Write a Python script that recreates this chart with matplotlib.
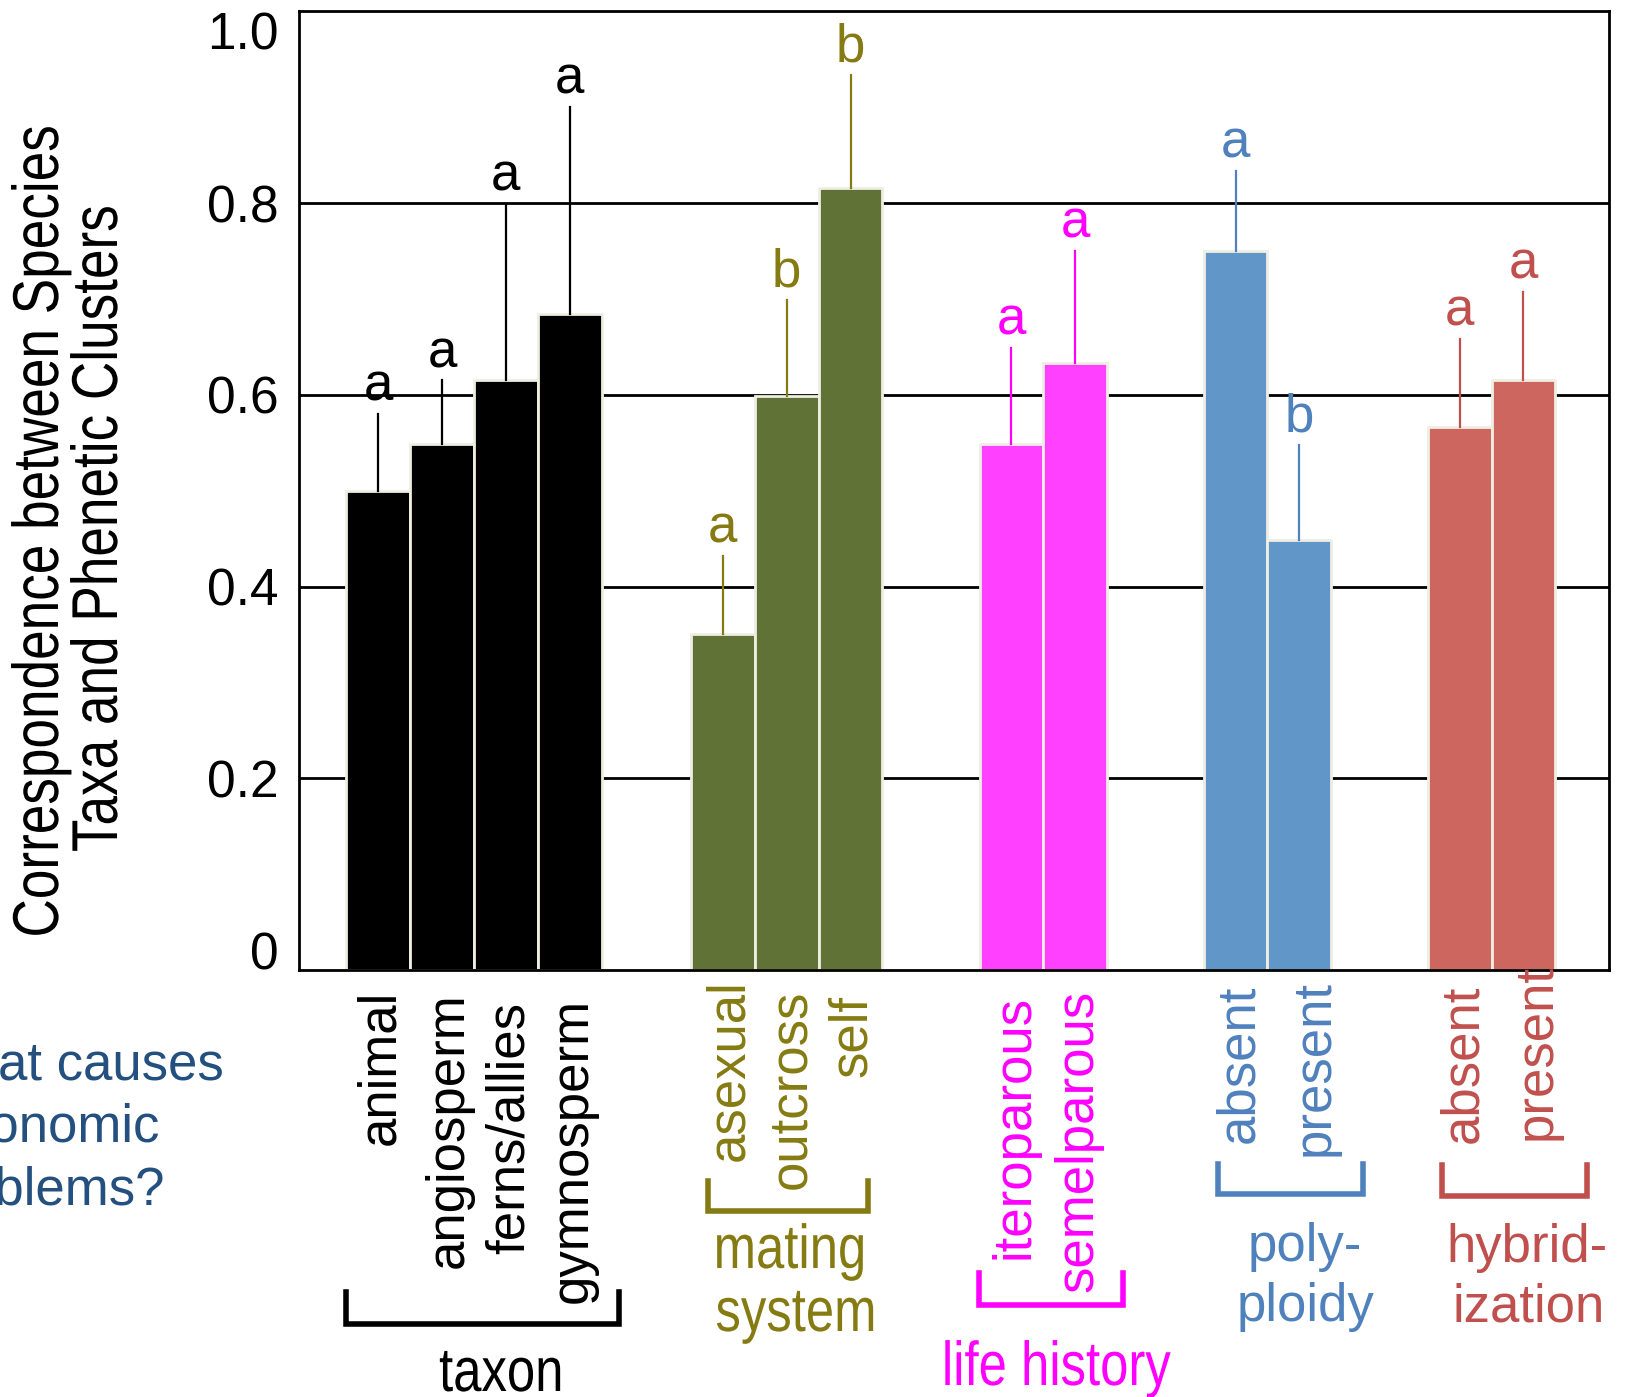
import matplotlib
matplotlib.use('Agg')
import matplotlib.pyplot as plt
from matplotlib.textpath import TextPath
from matplotlib.patches import PathPatch
from matplotlib.font_manager import FontProperties
from matplotlib.transforms import Affine2D

plt.rcParams['font.family'] = ['Liberation Sans', 'DejaVu Sans']

# ---- data ----
groups = ['taxon', 'mating system', 'life history', 'polyploidy', 'hybridization']
group_sizes = [4, 3, 2, 2, 2]
categories = ['animal', 'angiosperm', 'ferns/allies', 'gymnosperm',
              'asexual', 'outcross', 'self',
              'iteroparous', 'semelparous',
              'absent', 'present',
              'absent', 'present']
means = [0.50, 0.549, 0.615, 0.684,
         0.35, 0.599, 0.816,
         0.549, 0.633,
         0.75, 0.449,
         0.566, 0.615]
upper = [0.580, 0.615, 0.799, 0.900,
         0.432, 0.699, 0.934,
         0.649, 0.750,
         0.834, 0.548,
         0.658, 0.707]
letters = ['a', 'a', 'a', 'a',
           'a', 'b', 'b',
           'a', 'a',
           'a', 'b',
           'a', 'a']

bar_colors = ['#000000', '#617236', '#ff40ff', '#6196c8', '#cc665e']
text_colors = ['#000000', '#857b12', '#ff00ff', '#4f81bd', '#c0504d']
gaps = [2.4, 2.52, 2.51, 2.51]

W, H = 1633, 1397

# ---- positions ----
xs, gidx = [], []
x = 0.0
for g, n in enumerate(group_sizes):
    if g > 0:
        x += gaps[g - 1] - 1
    for k in range(n):
        xs.append(x)
        gidx.append(g)
        x += 1

fig = plt.figure(figsize=(W / 100, H / 100), dpi=100)
ax = fig.add_axes([0.1831, 0.3057, 0.8022, 0.6861])
ax.set_xlim(-1.24, 19.28)
ax.set_ylim(0, 1.0)


def narrow_text(s, x_px, y_top_px, size_px, color, rot=0, sx=0.82):
    # condensed text drawn as a path, placed by baseline (pixels from top-left)
    tp = TextPath((0, 0), s, size=size_px, prop=FontProperties(family='Liberation Sans'))
    ext = tp.get_extents()
    tr = (Affine2D().translate(-(ext.x0 + ext.x1) / 2, 0).scale(sx, 1)
          .rotate_deg(rot).translate(x_px, H - y_top_px))
    fig.add_artist(PathPatch(tp, transform=tr, facecolor=color, edgecolor='none', lw=0))


for yv in [0.2, 0.4, 0.6, 0.8]:
    ax.axhline(yv, color='black', lw=2, zorder=1)

ax.bar(xs, means, width=1.0, color=[bar_colors[g] for g in gidx],
       edgecolor='#efeee4', linewidth=2, zorder=2)
for xi, m, u, L, g in zip(xs, means, upper, letters, gidx):
    ax.plot([xi, xi], [m, u], color=text_colors[g], lw=1.6, zorder=3)
    ax.text(xi, u + 0.014, L, ha='center', va='baseline', fontsize=38,
            color=text_colors[g], zorder=4)

for s in ax.spines.values():
    s.set_linewidth(2)
ax.set_xticks([])
ax.set_yticks([0, 0.2, 0.4, 0.6, 0.8, 1.0])
ax.set_yticklabels(['0', '0.2', '0.4', '0.6', '0.8', '1.0'], fontsize=37)
ax.tick_params(axis='y', length=0, pad=15)
yl = ax.get_yticklabels()
yl[0].set_va('baseline')
yl[-1].set_va('top')

# category labels
lab_dx = [0.04, 0.1, 0.06, 0.05, 0.1, 0.07, 0.02, 0.04, 0.05, 0.06, 0.24, 0.06, 0.21]
lab_top = [-0.021, -0.023, -0.033, -0.029, -0.010, -0.021, -0.026, -0.026, -0.021,
           -0.015, -0.010, -0.015, 0.006]
for xi, c, g, dx, t in zip(xs, categories, gidx, lab_dx, lab_top):
    ax.text(xi + dx, t, c, rotation=90, ha='center', va='top', fontsize=38,
            color=text_colors[g], clip_on=False)

# group brackets
br_x = [(-0.51, 3.78), (5.17, 7.67), (9.41, 11.66), (13.16, 15.43), (16.67, 18.94)]
br_y = [(-0.336, -0.369), (-0.220, -0.251), (-0.316, -0.350), (-0.202, -0.234), (-0.204, -0.236)]
for g in range(len(groups)):
    (x0, x1), (y0, y1) = br_x[g], br_y[g]
    ax.plot([x0, x0, x1, x1], [y0, y1, y1, y0], color=text_colors[g], lw=4,
            clip_on=False, solid_joinstyle='miter')

# group titles (condensed ones as paths, pixel baselines)
narrow_text('taxon', 500, 1391, 62, text_colors[0])
narrow_text('mating', 790, 1268, 62, text_colors[1])
narrow_text('system', 795, 1331, 62, text_colors[1])
narrow_text('life history', 1058, 1385, 62, text_colors[2])
for line, xc, yb, g in [('poly-', 1305, 1261, 3), ('ploidy', 1306, 1321, 3),
                        ('hybrid-', 1527, 1262, 4), ('ization', 1529, 1322, 4)]:
    fig.text(xc / W, 1 - yb / H, line, ha='center', va='baseline', fontsize=38,
             color=text_colors[g])

# y label
narrow_text('Correspondence between Species', 58, 866 * 0 + 531, 64.8, 'black', rot=90)
narrow_text('Taxa and Phenetic Clusters', 117, 529, 64.8, 'black', rot=90)

# cut-off side text
fig.text(-81 / W, 1 - 1128 / H, 'What causes\ntaxonomic\nproblems?',
         ha='left', va='center', fontsize=38, color='#24507f', linespacing=1.33)

fig.savefig('out.png', dpi=100)
